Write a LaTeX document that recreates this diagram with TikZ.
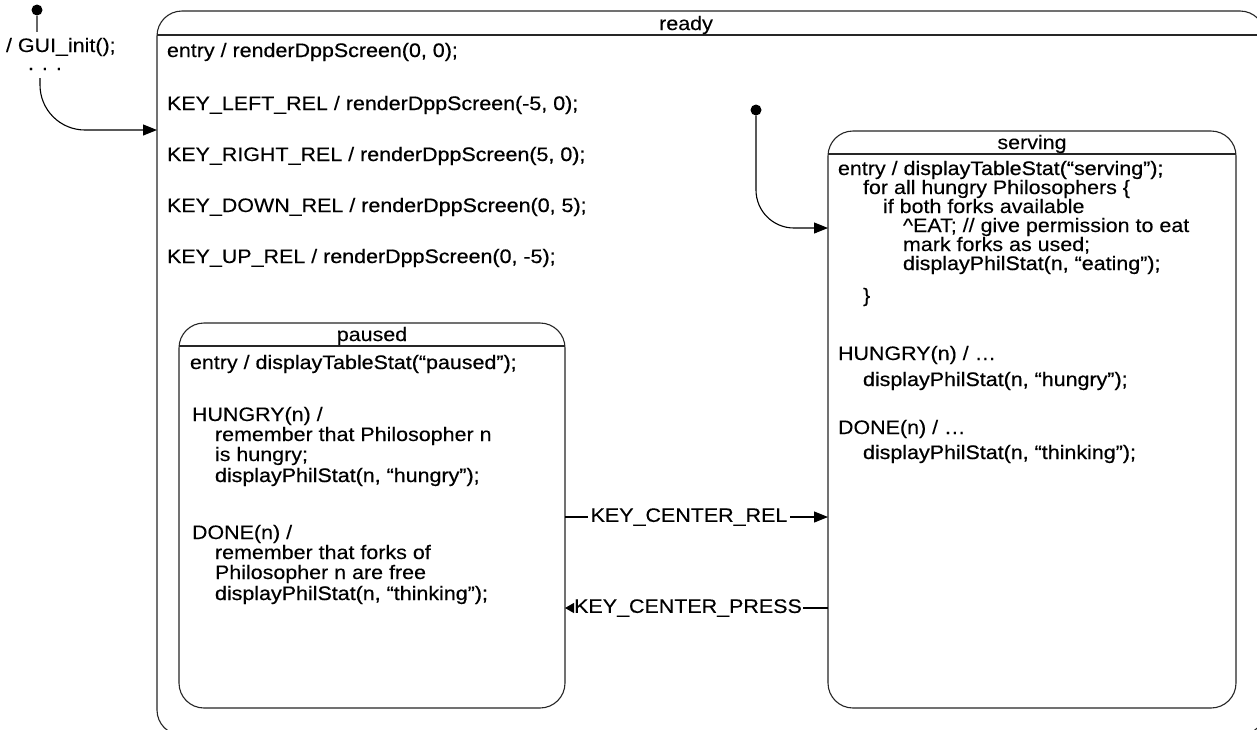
\documentclass[tikz,border=0pt]{standalone}
\usepackage{fontspec}
\setmainfont{Liberation Sans}[FakeStretch=1.1,FakeBold=0.15]
\newfontfamily\actf{Liberation Sans}[FakeStretch=1.1,FakeBold=0.6]
\newcommand\ac[1]{{\actf#1}}
\usetikzlibrary{arrows.meta}
\begin{document}
\begin{tikzpicture}[x=1pt,y=-1pt,line width=1.1pt,
  every node/.style={font=\fontsize{19.5}{19}\selectfont, inner sep=0pt, outer sep=0pt, text=black},
  txt/.style={anchor=base west},
  tip/.style={-{Triangle[length=14pt,width=11pt]}},
  smalltip/.style={-{Triangle[length=9pt,width=10pt]}},
  box/.style={draw=black!85, rounded corners=25pt, anchor=north west},
  dot/.style={circle, fill=black, minimum size=11pt},
  lbl/.style={inner xsep=3pt}]
\useasboundingbox (0,0) rectangle (1257,729);
\clip (0,0) rectangle (1257,729);
\fill[white] (0,0) rectangle (1257,729);

% ready
\node[box, minimum width=1108pt, minimum height=724pt] (ready) at (157,11) {};
\draw[black!85] ([yshift=-24pt]ready.north west) -- ([yshift=-24pt]ready.north east);
\node (readyt) at (686,25) {ready};
\node[txt] (r1) at (167,57) {entry / \ac{renderDppScreen(0, 0);}};
\node[txt] (r2) at (167,110) {KEY\_LEFT\_REL / \ac{renderDppScreen(-5, 0);}};
\node[txt] (r3) at (167,161) {KEY\_RIGHT\_REL / \ac{renderDppScreen(5, 0);}};
\node[txt] (r4) at (167,212) {KEY\_DOWN\_REL / \ac{renderDppScreen(0, 5);}};
\node[txt] (r5) at (167,263) {KEY\_UP\_REL / \ac{renderDppScreen(0, -5);}};

% serving
\node[box, minimum width=408pt, minimum height=577pt] (serving) at (828,131) {};
\draw[black!85] ([yshift=-23pt]serving.north west) -- ([yshift=-23pt]serving.north east);
\node (servingt) at (1032,144) {serving};
\node[txt] (s1) at (838,175) {entry / \ac{displayTableStat(“serving”);}};
\node[txt] (s2) at (863,194) {for all hungry Philosophers \{};
\node[txt] (s3) at (883,213) {if both forks available};
\node[txt] (s4) at (903,232) {\textasciicircum EAT; // give permission to eat};
\node[txt] (s5) at (903,251) {mark forks as used;};
\node[txt] (s6) at (903,270) {\ac{displayPhilStat(n, “eating”);}};
\node[txt] (s7) at (863,302) {\}};
\node[txt] (s8) at (838,360) {HUNGRY(n) / …};
\node[txt] (s9) at (863,386) {\ac{displayPhilStat(n, “hungry”);}};
\node[txt] (s10) at (838,434) {DONE(n) / …};
\node[txt] (s11) at (863,459) {\ac{displayPhilStat(n, “thinking”);}};

% paused
\node[box, minimum width=386pt, minimum height=385pt] (paused) at (179,323) {};
\draw[black!85] ([yshift=-23pt]paused.north west) -- ([yshift=-23pt]paused.north east);
\node (pausedt) at (372,336) {paused};
\node[txt] (p1) at (190,369) {entry / \ac{displayTableStat(“paused”);}};
\node[txt] (p2) at (192,421) {HUNGRY(n) /};
\node[txt] (p3) at (215,441) {remember that Philosopher n};
\node[txt] (p4) at (215,461) {is hungry;};
\node[txt] (p5) at (215,482) {\ac{displayPhilStat(n, “hungry”);}};
\node[txt] (p6) at (192,539) {DONE(n) /};
\node[txt] (p7) at (215,559) {remember that forks of};
\node[txt] (p8) at (215,579) {Philosopher n are free};
\node[txt] (p9) at (215,600) {\ac{displayPhilStat(n, “thinking”);}};

% top-level initial transition
\node[dot] (init) at (37,10) {};
\coordinate (initend) at (37,32);
\draw[black!60] (init) -- (initend);
\node[txt] (initlbl) at (6,52) {/ GUI\_init();};
\node[txt] (dots) at (28,70) {. . .};
\coordinate (c0) at (40,78);
\coordinate (c1) at (0,130);
\draw[tip, rounded corners=45pt] (c0) |- (ready.west |- c1);

% inner initial transition
\node[dot] (idot) at (756,110) {};
\coordinate (c2) at (0,228);
\draw[tip, rounded corners=38pt] (idot) |- (serving.west |- c2);

% transitions between states
\node[lbl] (rel) at (689,517) {KEY\_CENTER\_REL};
\draw (paused.east |- rel) -- (rel.west);
\draw[tip] (rel.east) -- (serving.west |- rel);
\node[lbl, inner xsep=1pt] (press) at (688,608) {KEY\_CENTER\_PRESS};
\draw (serving.west |- press) -- (press.east);
\draw[smalltip] (press.west) -- (paused.east |- press);
\end{tikzpicture}
\end{document}
